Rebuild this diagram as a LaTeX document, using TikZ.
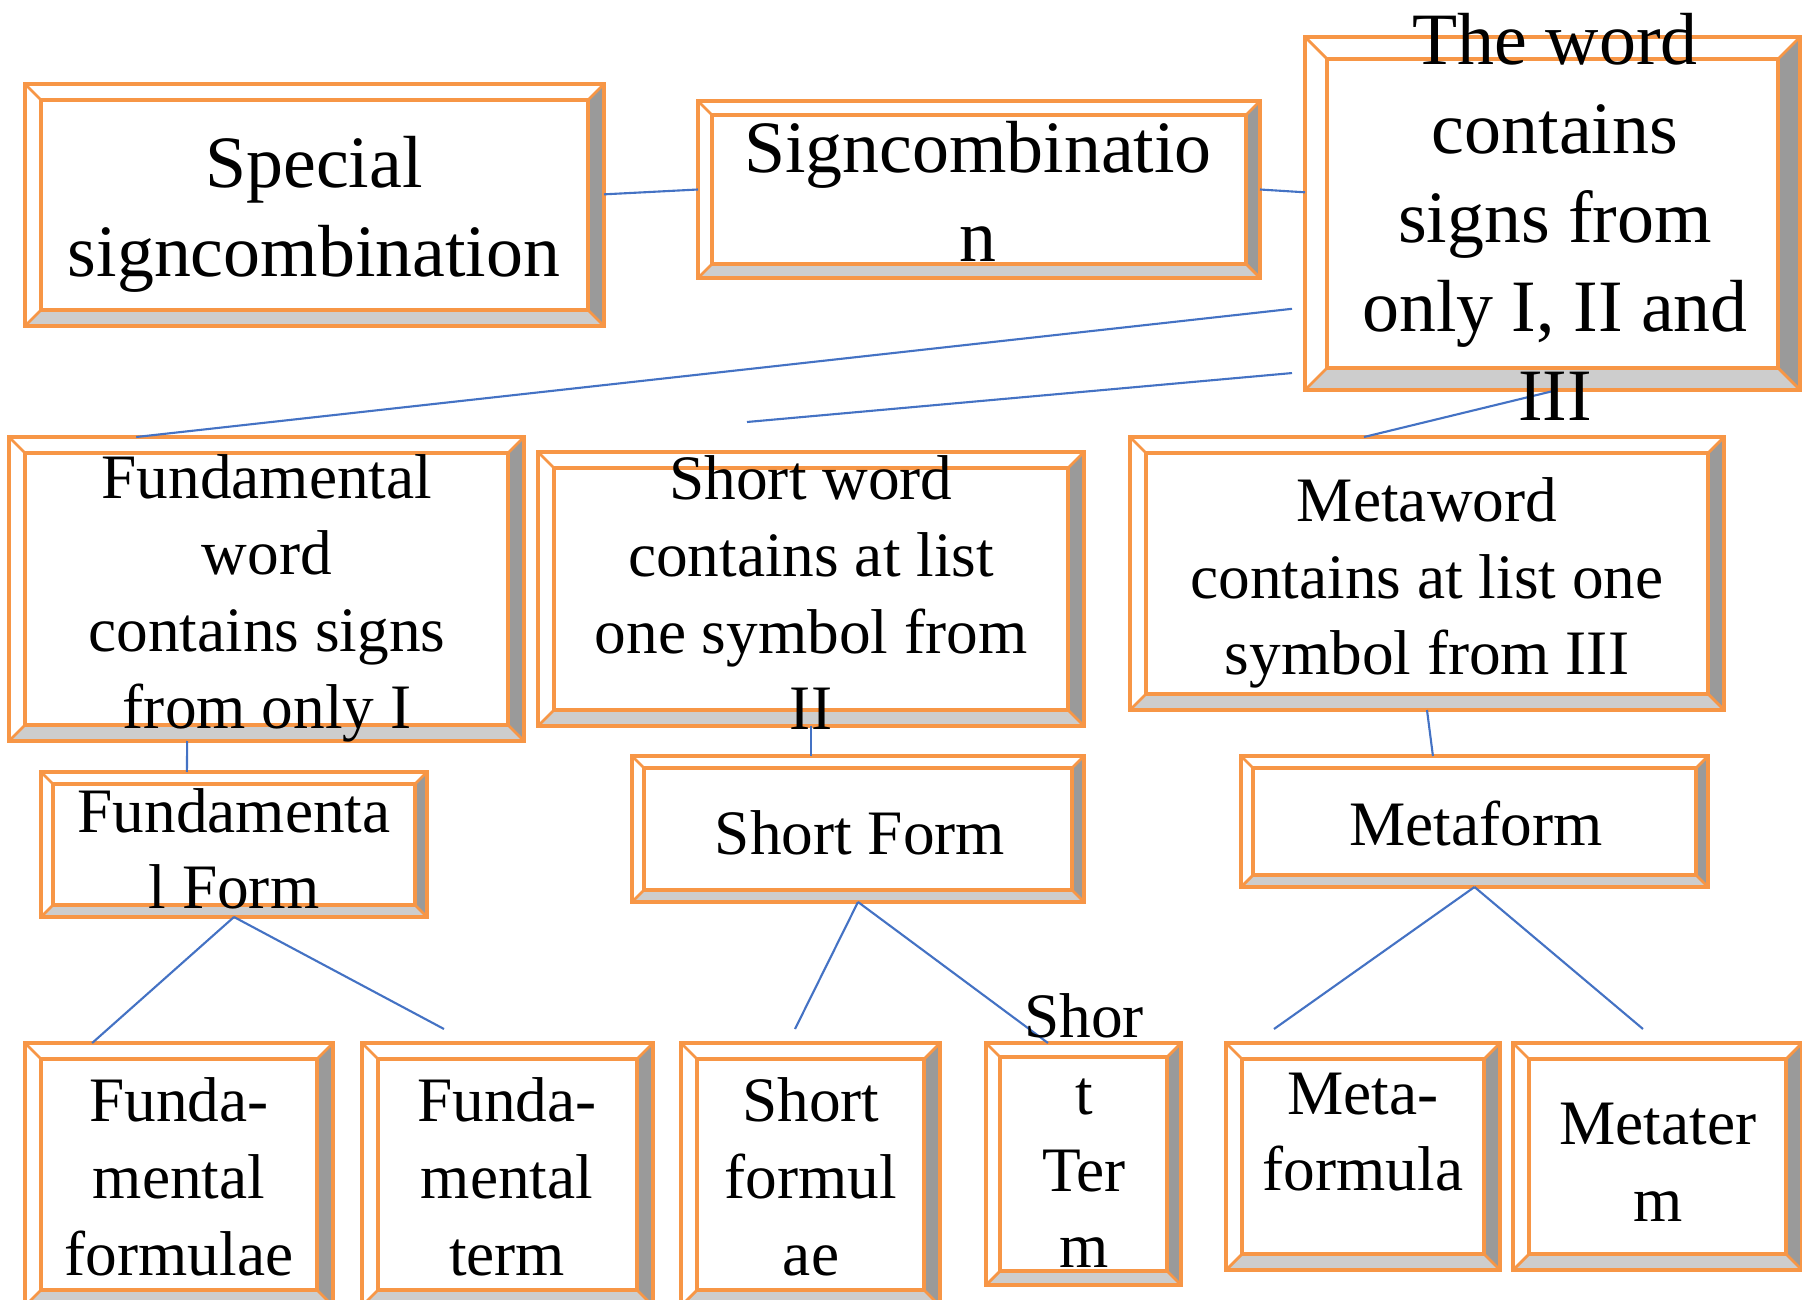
\documentclass[tikz,border=0pt]{standalone}
\usepackage{fontspec}
\setmainfont{Liberation Serif}
\usetikzlibrary{calc}
\definecolor{org}{HTML}{F79646}
\definecolor{dg}{HTML}{9A9A9A}
\definecolor{lg}{HTML}{CDCDCD}
\definecolor{lnk}{HTML}{4472C4}
\tikzset{
  boxnode/.style={draw=none, inner sep=0pt, outer sep=0pt, rectangle},
  big/.style={font=\fontsize{21}{25.3}\selectfont, align=center, inner sep=0pt},
  mid/.style={font=\fontsize{18}{21.8}\selectfont, align=center, inner sep=0pt},
  conn/.style={draw=lnk, line width=0.6pt}
}
\newcommand\bevbox[6]{%
  \node[boxnode, minimum width={(#4-#2)*0.01cm}, minimum height={(#5-#3)*0.01cm}] (#1) at ({(#2+#4)/2},{(#3+#5)/2}) {};
  \fill[white] (#2,#3) rectangle (#4,#5);
  \fill[dg] (#4,#3) -- (#4,#5) -- ({#4-#6},{#5-#6}) -- ({#4-#6},{#3+#6}) -- cycle;
  \fill[lg] (#2,#5) -- (#4,#5) -- ({#4-#6},{#5-#6}) -- ({#2+#6},{#5-#6}) -- cycle;
  \draw[org, line width=0.8pt] (#2,#3) -- ({#2+#6},{#3+#6}) (#4,#3) -- ({#4-#6},{#3+#6}) (#2,#5) -- ({#2+#6},{#5-#6}) (#4,#5) -- ({#4-#6},{#5-#6});
  \draw[org, line width=1.4pt] (#2,#3) rectangle (#4,#5);
  \draw[org, line width=1.4pt] ({#2+#6},{#3+#6}) rectangle ({#4-#6},{#5-#6});
}
\begin{document}
\begin{tikzpicture}[x=0.01cm, y=-0.01cm]
\useasboundingbox (0,0) rectangle (1802,1300);
\fill[white] (0,0) rectangle (1802,1300);
\clip (0,0) rectangle (1802,1300);

\bevbox{A}{25}{84}{604}{326}{16}
\bevbox{B}{698}{101}{1260}{278}{14}
\bevbox{C}{1305}{37}{1800}{390}{22}
\bevbox{D}{9}{437}{524}{741}{16}
\bevbox{E}{538}{452}{1084}{726}{16}
\bevbox{F}{1130}{437}{1724}{710}{16}
\bevbox{G}{41}{772}{427}{917}{12}
\bevbox{H}{632}{756}{1084}{902}{12}
\bevbox{I}{1241}{756}{1708}{887}{12}
\bevbox{J}{25}{1043}{333}{1306}{16}
\bevbox{K}{362}{1043}{653}{1306}{16}
\bevbox{L}{681}{1043}{940}{1306}{16}
\bevbox{M}{986}{1043}{1181}{1285}{14}
\bevbox{N}{1226}{1043}{1500}{1270}{16}
\bevbox{O}{1513}{1043}{1802}{1270}{16}

\coordinate (c3) at ($(C.north west)!0.77!(C.south west)+(-13,0)$);
\coordinate (c4) at ($(C.north west)!0.952!(C.south west)+(-13,0)$);
\coordinate (e4) at (747,422);
\coordinate (e10) at (444,1029);
\coordinate (e11) at (795,1029);
\coordinate (e13) at (1274,1029);
\coordinate (e14) at (1643,1029);

\draw[conn] ($(A.north east)!0.456!(A.south east)$) -- (B.west);
\draw[conn] (B.east) -- ($(C.north west)!0.44!(C.south west)$);
\draw[conn] (c3) -- ($(D.north west)!0.247!(D.north east)$);
\draw[conn] (c4) -- (e4);
\draw[conn] ($(C.south west)!0.51!(C.south east)$) -- ($(F.north west)!0.394!(F.north east)$);
\draw[conn] ($(D.south west)!0.346!(D.south east)$) -- ($(G.north west)!0.378!(G.north east)$);
\draw[conn] (E.south) -- (E.south |- H.north);
\draw[conn] (F.south) -- ($(I.north west)!0.411!(I.north east)$);
\draw[conn] (G.south) -- ($(J.north west)!0.218!(J.north east)$);
\draw[conn] (G.south) -- (e10);
\draw[conn] (H.south) -- (e11);
\draw[conn] (H.south) -- ($(M.north west)!0.318!(M.north east)$);
\draw[conn] (I.south) -- (e13);
\draw[conn] (I.south) -- (e14);

\node[big] (tA) at (314,214) {Special\\signcombination};
\node[big] (tB) at (978,191) {Signcombinatio\\n};
\node[big] (tC) at (1555,217) {The word\\contains\\signs from\\only I, II and\\III};
\node[mid] (tD) at (267,598) {Fundamental\\word\\contains signs\\from only I};
\node[mid] (tE) at (811,593) {Short word\\contains at list\\one symbol from\\II};
\node[mid] (tF) at (1427,583) {Metaword\\contains at list one\\symbol from III};
\node[mid] (tG) at (234,849) {Fundamenta\\l Form};
\node[mid] (tH) at (860,833) {Short Form};
\node[mid] (tI) at (1476,824) {Metaform};
\node[mid] (tJ) at (179,1177) {Funda-\\mental\\formulae};
\node[mid] (tK) at (507,1177) {Funda-\\mental\\term};
\node[mid] (tL) at (811,1177) {Short\\formul\\ae};
\node[mid] (tM) at (1084,1131) {Shor\\t\\Ter\\m};
\node[mid] (tN) at (1363,1132) {Meta-\\formula};
\node[mid] (tO) at (1658,1162) {Metater\\m};
\end{tikzpicture}
\end{document}
